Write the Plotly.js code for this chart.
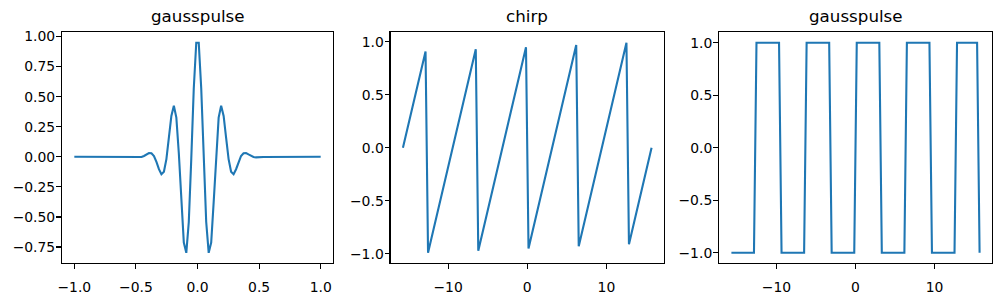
<!DOCTYPE html>
<html>
<head>
<meta charset="utf-8">
<script src="https://cdn.plot.ly/plotly-3.0.1.min.js"></script>
<style>html,body{margin:0;padding:0;background:#fff;}#chart{width:1001px;height:297px;}</style>
</head>
<body>
<div id="chart"></div>
<script>
// Panel titles
const titles = ["gausspulse", "chirp", "gausspulse"];

// Panel 1: gausspulse samples
const pulseX = [-1.0, -0.5354, -0.5152, -0.4949, -0.4747, -0.4545, -0.4343, -0.4141, -0.3939, -0.3737, -0.3535,
  -0.3333, -0.3131, -0.2929, -0.2727, -0.2525, -0.2323, -0.2121, -0.1919, -0.1717, -0.1515,
  -0.1313, -0.1111, -0.0909, -0.0707, -0.0505, -0.0303, -0.0101,
  0.0101, 0.0303, 0.0505, 0.0707, 0.0909, 0.1111, 0.1313, 0.1515, 0.1717, 0.1919, 0.2121,
  0.2323, 0.2525, 0.2727, 0.2929, 0.3131, 0.3333, 0.3535, 0.3737, 0.3939, 0.4141, 0.4343,
  0.4545, 0.4747, 0.4949, 0.5152, 0.5354, 1.0];
const pulseY = [0.0, -0.001, -0.002, -0.004, -0.005, -0.001, 0.007, 0.020, 0.031, 0.030, 0.007,
  -0.042, -0.103, -0.144, -0.124, -0.019, 0.158, 0.340, 0.425, 0.326, 0.028,
  -0.377, -0.713, -0.798, -0.542, -0.015, 0.568, 0.948,
  0.948, 0.568, -0.015, -0.542, -0.798, -0.713, -0.377, 0.028, 0.326, 0.425, 0.340,
  0.158, -0.019, -0.124, -0.144, -0.103, -0.042, 0.007, 0.030, 0.031, 0.020, 0.007,
  -0.001, -0.005, -0.004, -0.002, -0.001, 0.0];

// Panel 2: sawtooth ("chirp") corner samples
const sawX = [-15.708, -12.852, -12.535, -6.505, -6.188, -0.159, 0.159, 6.188, 6.505, 12.534, 12.852, 15.708];
const sawY = [0.0, 0.909, -0.990, 0.929, -0.970, 0.949, -0.949, 0.970, -0.929, 0.990, -0.909, 0.0];

// Panel 3: square wave corner samples
const sqX = [-15.708, -12.852, -12.535, -9.679, -9.361, -6.505, -6.188, -3.332, -3.015, -0.159, 0.159, 3.015, 3.332,
  6.188, 6.505, 9.361, 9.679, 12.534, 12.852, 15.391, 15.708];
const sqY = [-1, -1, 1, 1, -1, -1, 1, 1, -1, -1, 1, 1, -1, -1, 1, 1, -1, -1, 1, 1, -1];

// Tick labels
const p1XTicks = [-1.0, -0.5, 0.0, 0.5, 1.0];
const p1XText = ["\u22121.0", "\u22120.5", "0.0", "0.5", "1.0"];
const p1YTicks = [-0.75, -0.5, -0.25, 0, 0.25, 0.5, 0.75, 1.0];
const p1YText = ["\u22120.75", "\u22120.50", "\u22120.25", "0.00", "0.25", "0.50", "0.75", "1.00"];
const wXTicks = [-10, 0, 10];
const wXText = ["\u221210", "0", "10"];
const wYTicks = [-1.0, -0.5, 0.0, 0.5, 1.0];
const wYText = ["\u22121.0", "\u22120.5", "0.0", "0.5", "1.0"];

const blue = "#1f77b4";
const font = "DejaVu Sans, sans-serif";

function range(arr) {
  const mn = Math.min(...arr), mx = Math.max(...arr), pad = (mx - mn) * 0.05;
  return [mn - pad, mx + pad];
}

const W = 1001, H = 297;
const xDomains = [[62 / W, 333 / W], [390.5 / W, 664 / W], [719 / W, 992 / W]];
const yDomain = [1 - 263.3 / H, 1 - 32.3 / H];

function axis(dom, rng, tv, tt, anchor, standoff) {
  return {
    domain: dom, range: rng, anchor: anchor,
    showgrid: false, zeroline: false,
    showline: true, mirror: true, linecolor: "#000", linewidth: 1.1,
    ticks: "outside", ticklen: 4.9, tickwidth: 1.1, tickcolor: "#000",
    ticklabelstandoff: standoff,
    tickvals: tv, ticktext: tt,
    tickfont: {family: font, size: 13.9, color: "#000"},
    fixedrange: true
  };
}

const line = {color: blue, width: 2.1};
const traces = [
  {x: pulseX, y: pulseY, type: "scatter", mode: "lines", line: line, xaxis: "x", yaxis: "y", hoverinfo: "skip"},
  {x: sawX, y: sawY, type: "scatter", mode: "lines", line: line, xaxis: "x2", yaxis: "y2", hoverinfo: "skip"},
  {x: sqX, y: sqY, type: "scatter", mode: "lines", line: line, xaxis: "x3", yaxis: "y3", hoverinfo: "skip"}
];

const XS = 6, YS = -2;
const layout = {
  width: W, height: H,
  margin: {l: 0, r: 0, t: 0, b: 0},
  paper_bgcolor: "#fff", plot_bgcolor: "#fff",
  showlegend: false,
  xaxis: axis(xDomains[0], range(pulseX), p1XTicks, p1XText, "y", XS),
  yaxis: axis(yDomain, range(pulseY), p1YTicks, p1YText, "x", YS),
  xaxis2: axis(xDomains[1], range(sawX), wXTicks, wXText, "y2", XS),
  yaxis2: axis(yDomain, range(sawY), wYTicks, wYText, "x2", YS),
  xaxis3: axis(xDomains[2], range(sqX), wXTicks, wXText, "y3", XS),
  yaxis3: axis(yDomain, range(sqY), wYTicks, wYText, "x3", YS),
  annotations: titles.map((t, i) => ({
    text: t, showarrow: false,
    xref: "paper", yref: "paper",
    x: (xDomains[i][0] + xDomains[i][1]) / 2, y: yDomain[1],
    xanchor: "center", yanchor: "bottom", yshift: 4,
    font: {family: font, size: 16.7, color: "#000"}
  }))
};

Plotly.newPlot("chart", traces, layout, {displayModeBar: false, staticPlot: true});
</script>
</body>
</html>
